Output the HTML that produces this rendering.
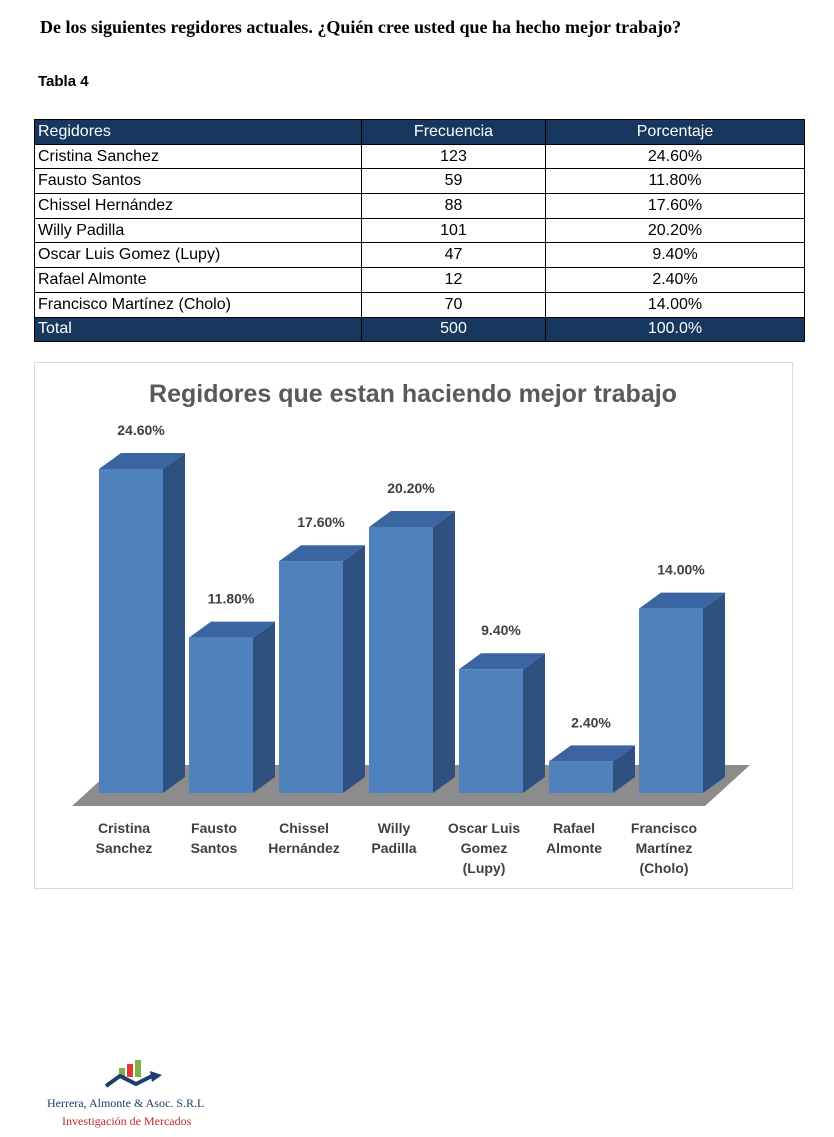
<!DOCTYPE html>
<html><head><meta charset="utf-8"><style>
body{margin:0;width:834px;height:1137px;background:#fff;position:relative;font-family:"Liberation Sans",sans-serif;overflow:hidden}
.abs{position:absolute}
table{border-collapse:collapse;position:absolute;left:34px;top:119px;width:771px;font-size:16px}
td{border:1px solid #000;height:23.7px;padding:0 3px;line-height:22px}
td.c{text-align:center}
tr.h td{background:#17375e;color:#fff}
</style></head><body>
<div class="abs" style="left:40px;top:17px;font-family:'Liberation Serif',serif;font-weight:bold;font-size:18px">De los siguientes regidores actuales. ¿Quién cree usted que ha hecho mejor trabajo?</div>
<div class="abs" style="left:38px;top:73px;font-weight:bold;font-size:15px">Tabla 4</div>
<table>
<tr class="h"><td style="width:320px">Regidores</td><td class="c" style="width:177px">Frecuencia</td><td class="c">Porcentaje</td></tr>
<tr><td>Cristina Sanchez</td><td class="c">123</td><td class="c">24.60%</td></tr>
<tr><td>Fausto Santos</td><td class="c">59</td><td class="c">11.80%</td></tr>
<tr><td>Chissel Hernández</td><td class="c">88</td><td class="c">17.60%</td></tr>
<tr><td>Willy Padilla</td><td class="c">101</td><td class="c">20.20%</td></tr>
<tr><td>Oscar Luis Gomez (Lupy)</td><td class="c">47</td><td class="c">9.40%</td></tr>
<tr><td>Rafael Almonte</td><td class="c">12</td><td class="c">2.40%</td></tr>
<tr><td>Francisco Martínez (Cholo)</td><td class="c">70</td><td class="c">14.00%</td></tr>
<tr class="h"><td>Total</td><td class="c">500</td><td class="c">100.0%</td></tr>
</table>
<svg class="abs" style="left:0;top:0" width="834" height="1137">
<rect x="34.5" y="362.5" width="758" height="526" fill="#fff" stroke="#d9d9d9"/>
<text x="413" y="402" text-anchor="middle" font-size="25" font-weight="bold" fill="#595959">Regidores que estan haciendo mejor trabajo</text>
<polygon points="72,806 705,806 750,765 117,765" fill="#8c8c8c"/>
<g id="bars"></g>
</svg>
<svg class="abs" style="left:100px;top:1058px" width="70" height="35">
<rect x="19" y="10" width="6" height="9" fill="#7cb342"/><rect x="27" y="6" width="6" height="13" fill="#e53935"/><rect x="35" y="2" width="6" height="17" fill="#7cb342"/>
<polyline points="6,28 20,18 36,26 52,18" fill="none" stroke="#1f3c6e" stroke-width="4"/><polygon points="50,13 62,17 52,24" fill="#1f3c6e"/>
</svg>
<div class="abs" style="left:47px;top:1096px;font-family:'Liberation Serif',serif;font-size:12px;color:#1f3c6e">Herrera, Almonte &amp; Asoc. S.R.L</div>
<div class="abs" style="left:62px;top:1114px;font-family:'Liberation Serif',serif;font-size:12px;color:#c62828">Investigación de Mercados</div>
<script>
const categories=[["Cristina","Sanchez"],["Fausto","Santos"],["Chissel","Hernández"],["Willy","Padilla"],["Oscar Luis","Gomez","(Lupy)"],["Rafael","Almonte"],["Francisco","Martínez","(Cholo)"]];
const values=[24.6,11.8,17.6,20.2,9.4,2.4,14.0];
const valueLabels=["24.60%","11.80%","17.60%","20.20%","9.40%","2.40%","14.00%"];
const NS="http://www.w3.org/2000/svg";
const g=document.getElementById('bars');
const base=793,scale=13.17,x0=99,step=90,w=64,dx=22,dy=16;
function xPos(i){return x0+i*step}
function yPos(v){return base-v*scale}
function mk(tag,attrs){const e=document.createElementNS(NS,tag);for(const k in attrs)e.setAttribute(k,attrs[k]);g.appendChild(e);return e}
values.forEach((v,i)=>{
 const x=xPos(i),y=yPos(v);
 const side=mk('polygon',{points:`${x+w},${y} ${x+w+dx},${y-dy} ${x+w+dx},${base-dy} ${x+w},${base}`,fill:'#2f5180'});
 
 
 const top=mk('polygon',{points:`${x},${y} ${x+dx},${y-dy} ${x+w+dx},${y-dy} ${x+w},${y}`,fill:'#3a65a0'});
 
 
 const r=mk('rect',{x:x,y:y,width:w,height:base-y,fill:'#4f81bd'});
 
 
 const t=mk('text',{x:x+w/2+10,y:y-dy-18,'text-anchor':'middle','font-size':14,'font-weight':'bold',fill:'#404040'});
 t.textContent=valueLabels[i];
 
 
 categories[i].forEach((line,j)=>{
  const c=mk('text',{x:x+w/2-7,y:833+j*20,'text-anchor':'middle','font-size':14,'font-weight':'bold',fill:'#404040'});
  c.textContent=line;
  
  
 });
});
</script>
</body></html>
